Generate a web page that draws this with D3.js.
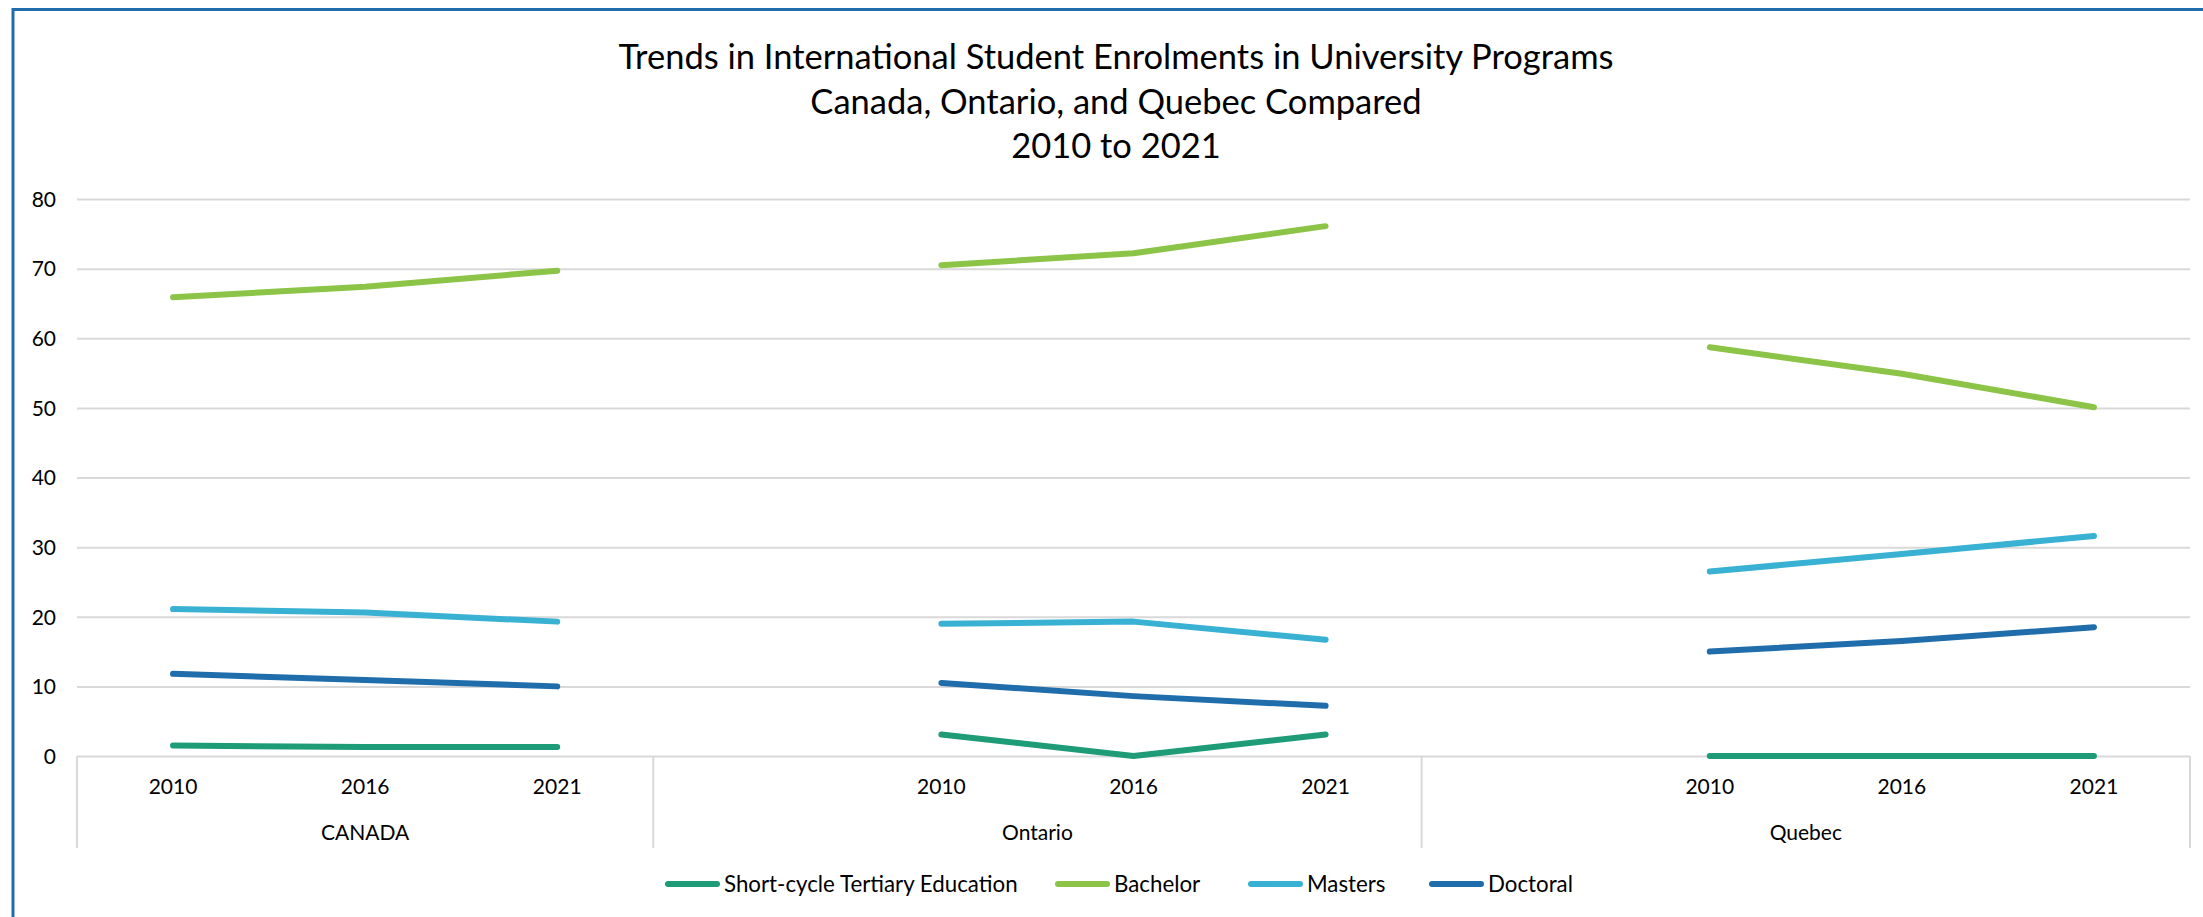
<!DOCTYPE html>
<html>
<head>
<meta charset="utf-8">
<script src="https://cdn.jsdelivr.net/npm/d3@7"></script>
<style>
  html, body { margin: 0; padding: 0; background: #fff; }
  svg { display: block; }
  text { font-family: Lato, "Open Sans", sans-serif; fill: #000; }
</style>
</head>
<body>
<svg id="chart" width="2203" height="917"></svg>
<script>
// ---- Data ----
const titleLines = [
  "Trends in International Student Enrolments in University Programs",
  "Canada, Ontario, and Quebec Compared",
  "2010 to 2021"
];
const groups = ["CANADA", "Ontario", "Quebec"];
// category slots (Excel multi-level axis; blank slot opens Ontario & Quebec)
const catGroup = ["CANADA","CANADA","CANADA","Ontario","Ontario","Ontario","Ontario","Quebec","Quebec","Quebec","Quebec"];
const catYear  = ["2010","2016","2021","","2010","2016","2021","","2010","2016","2021"];
const seriesNames = ["Short-cycle Tertiary Education", "Bachelor", "Masters", "Doctoral"];
const seriesColors = ["#1E9C77", "#8BC447", "#38B1D3", "#1F6DAB"];
const shortCycle = [1.5, 1.3, 1.3, null, 3.1, 0.0, 3.1, null, 0.0, 0.0, 0.0];
const bachelor   = [65.9, 67.4, 69.7, null, 70.5, 72.2, 76.1, null, 58.7, 54.9, 50.1];
const masters    = [21.1, 20.6, 19.3, null, 19.0, 19.3, 16.7, null, 26.5, 29.0, 31.6];
const doctoral   = [11.8, 10.9, 10.0, null, 10.5, 8.6, 7.2, null, 15.0, 16.5, 18.5];
const yTicks = [0, 10, 20, 30, 40, 50, 60, 70, 80];

const seriesValues = [shortCycle, bachelor, masters, doctoral];

// ---- Layout ----
const svg = d3.select("#chart");
const W = 2203, H = 917;
const plotL = 77, plotR = 2190, plotT = 199, plotB = 756;

// frame
svg.append("rect")
  .attr("x", 13).attr("y", 9.5)
  .attr("width", W + 100).attr("height", H + 100)
  .attr("fill", "none").attr("stroke", "#1F6DAB").attr("stroke-width", 3);

// title
const title = svg.append("g");
const titleY = [55, 100, 144];
titleLines.forEach((t, i) => {
  title.append("text")
    .attr("x", 1116).attr("y", titleY[i])
    .attr("text-anchor", "middle").attr("dominant-baseline", "central")
    .style("font-size", "34.5px")
    .text(t);
});

const idx = d3.range(catYear.length);
const x = d3.scaleBand().domain(idx).range([plotL, plotR]).padding(0);
const y = d3.scaleLinear().domain([0, 80]).range([plotB, plotT]);

// gridlines
const grid = svg.append("g").attr("transform", `translate(${plotL},0)`)
  .call(d3.axisLeft(y).tickValues(yTicks).tickSize(-(plotR - plotL)).tickFormat(""));
grid.select(".domain").remove();
grid.selectAll("line").attr("stroke", "#D9D9D9").attr("stroke-width", 2);

// y labels
const yAxis = svg.append("g").attr("transform", `translate(56,0)`)
  .call(d3.axisLeft(y).tickValues(yTicks).tickSize(0).tickPadding(0).tickFormat(d3.format("d")));
yAxis.select(".domain").remove();
yAxis.selectAll("text").style("font-size", "21px").attr("fill", "#000").attr("dy", "0.35em");

// category separators
const sepX = [plotL];
groups.forEach(g => {
  const last = catGroup.lastIndexOf(g);
  sepX.push(x(last) + x.bandwidth());
});
svg.append("g").selectAll("line").data(sepX).join("line")
  .attr("x1", d => d).attr("x2", d => d)
  .attr("y1", plotB).attr("y2", 848)
  .attr("stroke", "#D9D9D9").attr("stroke-width", 2);

// year labels
const xAxis = svg.append("g").attr("transform", `translate(0,${plotB})`)
  .call(d3.axisBottom(x).tickSize(0).tickPadding(0).tickFormat(i => catYear[i]));
xAxis.select(".domain").remove();
xAxis.selectAll("text").style("font-size", "21px").attr("fill", "#000")
  .attr("y", 31).attr("dy", "0.35em");

// group labels
svg.append("g").selectAll("text").data(groups).join("text")
  .attr("x", g => {
    const first = catGroup.indexOf(g), last = catGroup.lastIndexOf(g);
    return (x(first) + x(last) + x.bandwidth()) / 2;
  })
  .attr("y", 833).attr("dy", "0.35em")
  .attr("text-anchor", "middle")
  .style("font-size", "21px")
  .text(g => g);

// lines
const line = d3.line()
  .defined(d => d.v !== null)
  .x(d => x(d.i) + x.bandwidth() / 2)
  .y(d => y(d.v));
seriesValues.forEach((vals, s) => {
  groups.forEach(g => {
    const pts = idx.filter(i => catGroup[i] === g && vals[i] !== null).map(i => ({i, v: vals[i]}));
    svg.append("path")
      .datum(pts)
      .attr("d", line)
      .attr("fill", "none")
      .attr("stroke", seriesColors[s])
      .attr("stroke-width", 6)
      .attr("stroke-linecap", "round")
      .attr("stroke-linejoin", "round");
  });
});

// legend
const legendY = 884;
const legend = svg.append("g");
const legendSwatchX = [665, 1055, 1248, 1429];
seriesNames.forEach((n, s) => {
  const gx = legendSwatchX[s];
  legend.append("line")
    .attr("x1", gx + 3).attr("x2", gx + 52)
    .attr("y1", legendY).attr("y2", legendY)
    .attr("stroke", seriesColors[s]).attr("stroke-width", 6)
    .attr("stroke-linecap", "round");
  legend.append("text")
    .attr("x", gx + 59).attr("y", legendY).attr("dy", "0.35em")
    .style("font-size", "22.3px")
    .text(n);
});
</script>
</body>
</html>
